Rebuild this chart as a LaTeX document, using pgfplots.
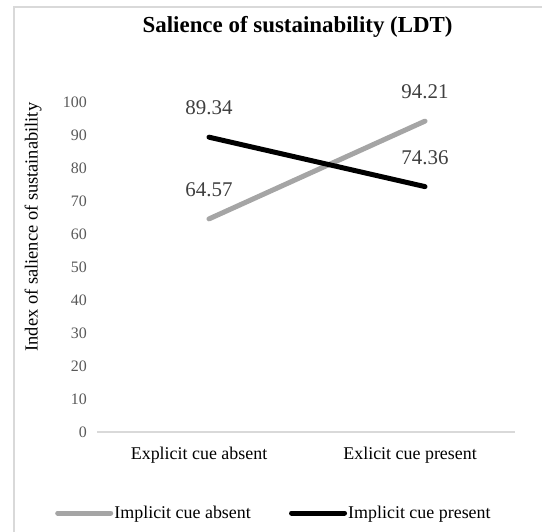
\documentclass[border=0pt]{standalone}
\usepackage{fontspec}
\setmainfont{Liberation Serif}
\usepackage{pgfplots}
\pgfplotsset{compat=1.18}
\definecolor{borderg}{RGB}{217,217,217}
\definecolor{lineg}{RGB}{165,165,165}
\definecolor{tickg}{RGB}{89,89,89}
\definecolor{labg}{RGB}{64,64,64}
\begin{document}
\begin{tikzpicture}
\useasboundingbox (0bp,0bp) rectangle (542bp,532bp);
\fill[white] (0bp,0bp) rectangle (542bp,532bp);
\draw[borderg, line width=1.5bp] (14bp,-10bp) -- (14bp,525bp) -- (560bp,525bp);
\begin{axis}[
  /pgf/number format/assume math mode=true,
  every axis title shift=0pt,
  at={(97bp,100bp)}, anchor=south west,
  scale only axis, width=418bp, height=330bp,
  xmin=-0.5185, xmax=1.4167, ymin=0, ymax=100,
  axis y line*=left, axis x line*=bottom,
  y axis line style={draw=none},
  x axis line style={borderg, line width=1.2bp, -},
  xtick={-0.046,0.931},
  xticklabels={Explicit cue absent, Exlicit cue present},
  ytick={0,10,...,100},
  major tick length=0pt,
  xticklabel style={font=\fontsize{18}{20}\selectfont, text=black, anchor=base, yshift=-27bp},
  yticklabel style={font=\fontsize{16}{18}\selectfont, text=tickg, anchor=east, inner sep=0pt, xshift=-10bp},
  ylabel={Index of salience of sustainability},
  ylabel style={at={(rel axis cs:-0.153,0.621)}, anchor=center, font=\fontsize{18.5}{20}\selectfont, text=black},
  title={Salience of sustainability (LDT)},
  title style={at={(rel axis cs:0.48,1.227)}, anchor=center, font=\fontsize{23}{25}\selectfont\bfseries},
  nodes near coords={\pgfmathprintnumber[fixed,precision=2,fixed zerofill]{\pgfplotspointmeta}},
  every node near coord/.append style={font=\fontsize{21}{22}\selectfont, text=labg, anchor=center, yshift=29bp},
  legend style={at={(rel axis cs:-0.1005,-0.2455)}, anchor=west, draw=none, fill=none, inner sep=0pt,
    font=\fontsize{18}{20}\selectfont, legend columns=2,
    /tikz/every even column/.append style={column sep=37bp},
    nodes={inner sep=1.2bp}},
  legend cell align=left,
  legend image code/.code={\draw[#1] (0bp,0bp) -- (53bp,0bp);},
]
\addplot[lineg, line width=5bp, line cap=round] coordinates {(0,64.57) (1,94.21)};
\addlegendentry{Implicit cue absent}
\addplot[black, line width=5bp, line cap=round] coordinates {(0,89.34) (1,74.36)};
\addlegendentry{Implicit cue present}
\end{axis}
\end{tikzpicture}
\end{document}
